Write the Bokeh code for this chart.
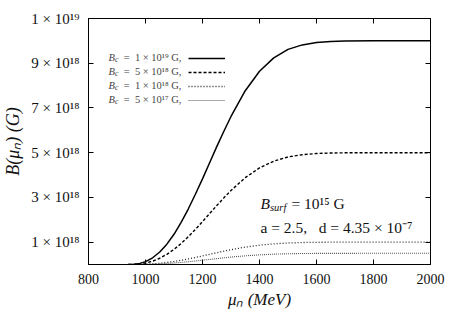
from bokeh.plotting import figure
from bokeh.models import (Range1d, LinearAxis, FixedTicker, CustomJSTickFormatter,
                          Label, Legend, LegendItem)
from bokeh.embed import file_html
from bokeh.resources import INLINE

# chemical potential of neutrons (MeV)
mu_n = [940, 960, 980, 1000, 1025, 1050, 1075, 1100, 1125, 1150, 1175, 1200, 1225,
        1250, 1275, 1300, 1350, 1400, 1450, 1500, 1550, 1600, 1650, 1700, 1800, 1900, 2000]
# B(mu_n) in units of 1e18 G
B_c_1e19 = [0.0, 0.01, 0.05, 0.13, 0.30, 0.56, 0.91, 1.35, 1.88, 2.48, 3.14, 3.83, 4.55,
            5.27, 5.96, 6.62, 7.77, 8.64, 9.24, 9.62, 9.82, 9.93, 9.97, 9.99, 10.0, 10.0, 10.0]
B_c_5e18 = [0.0, 0.005, 0.025, 0.065, 0.15, 0.28, 0.455, 0.676, 0.94, 1.24, 1.57, 1.915, 2.275,
            2.635, 2.98, 3.31, 3.883, 4.32, 4.62, 4.81, 4.91, 4.963, 4.986, 4.995, 5.0, 5.0, 5.0]
B_c_1e18 = [0.0, 0.001, 0.005, 0.013, 0.03, 0.056, 0.091, 0.135, 0.188, 0.248, 0.314, 0.383, 0.455,
            0.527, 0.596, 0.662, 0.777, 0.864, 0.924, 0.962, 0.982, 0.993, 0.997, 0.999, 1.0, 1.0, 1.0]
B_c_5e17 = [0.0, 0.0005, 0.0025, 0.0065, 0.015, 0.028, 0.0455, 0.0676, 0.094, 0.124, 0.157, 0.1915, 0.2275,
            0.2635, 0.298, 0.331, 0.3883, 0.432, 0.462, 0.481, 0.491, 0.4963, 0.4986, 0.4995, 0.5, 0.5, 0.5]

x_ticks = [800, 1000, 1200, 1400, 1600, 1800, 2000]
y_ticks = [1, 3, 5, 7, 9, 11]
y_tick_labels = ["1 × 10¹⁸", "3 × 10¹⁸", "5 × 10¹⁸", "7 × 10¹⁸", "9 × 10¹⁸", "1 × 10¹⁹"]
legend_values = ["1 × 10¹⁹", "5 × 10¹⁸", "1 × 10¹⁸", "5 × 10¹⁷"]

FONT = "'Liberation Serif'"
NB = "\u00a0"

p = figure(width=445, height=311, output_backend="svg", toolbar_location=None,
           x_range=Range1d(800, 2000), y_range=Range1d(0, 11),
           min_border_left=86, min_border_right=15, min_border_top=18, min_border_bottom=38)
p.xgrid.visible = False
p.ygrid.visible = False
p.outline_line_color = "black"
p.outline_line_width = 1
p.background_fill_color = "white"
p.border_fill_color = "white"

def style_axis(ax):
    ax.axis_line_color = "black"
    ax.major_tick_line_color = "black"
    ax.major_tick_in = 5
    ax.major_tick_out = 0
    ax.minor_tick_line_color = None
    ax.major_label_text_font = FONT
    ax.major_label_text_font_size = "14px"
    ax.major_label_text_color = "#111111"
    ax.axis_label_text_font = FONT
    ax.axis_label_text_font_size = "17px"
    ax.axis_label_text_font_style = "italic"
    ax.axis_label_text_color = "#111111"

xa = p.xaxis[0]
ya = p.yaxis[0]
style_axis(xa)
style_axis(ya)
ya.major_label_text_font_size = "15px"
xa.ticker = FixedTicker(ticks=x_ticks)
ya.ticker = FixedTicker(ticks=y_ticks)
ya.major_label_overrides = {t: s.replace(" ", NB) for t, s in zip(y_ticks, y_tick_labels)}
xa.major_label_standoff = 9
ya.major_label_standoff = 9
xa.axis_label = "μₙ" + NB + "(MeV)"
ya.axis_label = "B(μₙ)" + NB + "(G)"
ya.axis_label_text_font_size = "18px"
xa.axis_label_standoff = 3
ya.axis_label_standoff = 5

blank = CustomJSTickFormatter(code="return ''")
top = LinearAxis(ticker=FixedTicker(ticks=x_ticks), formatter=blank)
right = LinearAxis(ticker=FixedTicker(ticks=y_ticks), formatter=blank)
for ax in (top, right):
    style_axis(ax)
    ax.major_label_text_font_size = "1px"
    ax.major_label_standoff = 0
p.add_layout(top, "above")
p.add_layout(right, "right")

r1 = p.line(mu_n, B_c_1e19, line_color="black", line_width=1.5)
r2 = p.line(mu_n, B_c_5e18, line_color="black", line_width=1.4, line_dash="3 2")
r3 = p.line(mu_n, B_c_1e18, line_color="#222222", line_width=1.3, line_dash="1 2")
r4 = p.line(mu_n, B_c_5e17, line_color="#555555", line_width=1.1, line_dash="1 1")

legend = Legend(items=[LegendItem(label=" ", renderers=[r]) for r in (r1, r2, r3, r4)],
                location=(100, 157.5), glyph_width=37, glyph_height=14, label_height=14,
                label_width=1, label_standoff=0, spacing=0, padding=0, margin=0,
                label_text_font_size="6px", background_fill_alpha=0,
                border_line_color=None)
p.add_layout(legend, "center")

rows_y = [207.5, 193.5, 179.5, 165.5]
for yv, val in zip(rows_y, legend_values):
    p.add_layout(Label(x=20, y=yv, x_units="screen", y_units="screen", text="B",
                       text_font=FONT, text_font_size="10.5px", text_font_style="italic",
                       text_color="#444444", text_baseline="middle"))
    p.add_layout(Label(x=26.5, y=yv - 2.5, x_units="screen", y_units="screen", text="c",
                       text_font=FONT, text_font_size="7.5px", text_font_style="italic",
                       text_color="#444444", text_baseline="middle"))
    p.add_layout(Label(x=30, y=yv, x_units="screen", y_units="screen",
                       text=NB * 2 + "=" + NB * 2 + val.replace(" ", NB) + NB + "G,",
                       text_font=FONT, text_font_size="10.5px",
                       text_color="#444444", text_baseline="middle"))

p.add_layout(Label(x=172, y=61, x_units="screen", y_units="screen", text="B",
                   text_font=FONT, text_font_size="15.5px", text_font_style="italic",
                   text_color="#111111", text_baseline="middle"))
p.add_layout(Label(x=181.5, y=57, x_units="screen", y_units="screen", text="surf",
                   text_font=FONT, text_font_size="10.5px", text_font_style="italic",
                   text_color="#111111", text_baseline="middle"))
p.add_layout(Label(x=203, y=61, x_units="screen", y_units="screen",
                   text="=" + NB + "10¹⁵" + NB + "G",
                   text_font=FONT, text_font_size="15.5px",
                   text_color="#111111", text_baseline="middle"))
p.add_layout(Label(x=172, y=37, x_units="screen", y_units="screen",
                   text="a = 2.5,   d = 4.35 × 10⁻⁷".replace(" ", NB),
                   text_font=FONT, text_font_size="15.5px",
                   text_color="#111111", text_baseline="middle"))

open("out.html", "w").write(file_html(p, INLINE))
